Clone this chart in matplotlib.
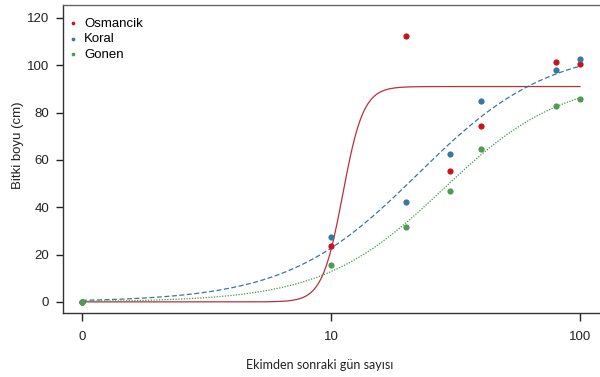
import matplotlib.pyplot as plt
import numpy as np

# sampling days (day 0 is drawn at position 1 on the log axis)
days = np.array([0, 10, 20, 30, 40, 80, 100])
osmancik = [0, 23.5, 112.5, 55.5, 74.5, 101.5, 100.5]
koral = [0, 27.5, 42.3, 62.6, 84.8, 97.8, 102.7]
gonen = [0, 15.6, 31.7, 46.7, 64.8, 82.7, 85.9]

# log-logistic fits: asymptote, midpoint day, slope
fit_osmancik = [91.0, 11.15, 10.5]
fit_koral = [108.0, 22.3, 1.65]
fit_gonen = [95.0, 28.1, 1.8]

names = ['Osmancik', 'Koral', 'Gonen']
colors = ['#c8141e', '#3a76a0', '#4f9a55']
line_colors = ['#b8303c', '#3a76a0', '#3f9a45']
styles = ['-', (0, (4, 2)), (0, (1, 1.2))]


def loglogistic(x, a, m, b):
    return a / (1 + (m / x) ** b)


fig = plt.figure(figsize=(6, 3.77), dpi=100)
ax = fig.add_axes([0.105, 0.170, 0.895, 0.817])

pos = np.where(days == 0, 1, days)
xs = np.geomspace(1, 100, 500)
for vals, fit, name, c, lc, ls in zip([osmancik, koral, gonen],
                                     [fit_osmancik, fit_koral, fit_gonen],
                                     names, colors, line_colors, styles):
    ax.plot(xs, loglogistic(xs, *fit), color=lc, lw=0.9, ls=ls, zorder=2)
    ax.scatter(pos, vals, s=20, color=c, zorder=3, label=name, linewidths=0)

ax.set_xscale('log')
ax.set_xlim(0.839, 120.3)
ax.set_ylim(-4.65, 125.5)
ax.set_xticks([1, 10, 100], labels=['0', '10', '100'])
ax.xaxis.set_minor_locator(plt.NullLocator())
ax.set_yticks(range(0, 121, 20))

ax.spines['right'].set_visible(False)
for s in ['left', 'top', 'bottom']:
    ax.spines[s].set_linewidth(1.0)
    ax.spines[s].set_color('#333333')
ax.spines['top'].set_color('#666666')

ax.tick_params(axis='y', length=5, width=1, pad=5, labelsize=9.5, colors='#222222')
ax.tick_params(axis='x', length=6, width=1, pad=7, labelsize=9.5, colors='#222222')
for lab in ax.get_xticklabels() + ax.get_yticklabels():
    lab.set_family('Liberation Sans')

ax.set_xlabel('Ekimden sonraki gün sayısı', family='Lato', fontsize=9,
              color='#222222', va='center')
ax.xaxis.set_label_coords((320 - 63) / 537, (313 - 365) / 308)
ax.set_ylabel('Bitki boyu (cm)', family='Liberation Sans', fontsize=9.5,
              color='#222222', va='center')
ax.yaxis.set_label_coords((18 - 63) / 537, (313 - 145) / 308)

leg = ax.legend(loc='upper left', bbox_to_anchor=(0.0, 0.975), frameon=False,
                handletextpad=0.45, handlelength=0.8, labelspacing=0.25,
                borderaxespad=0.06, borderpad=0.3,
                prop={'family': 'Liberation Sans', 'size': 9.5},
                markerscale=0.6)

fig.savefig('out.png', dpi=100)
